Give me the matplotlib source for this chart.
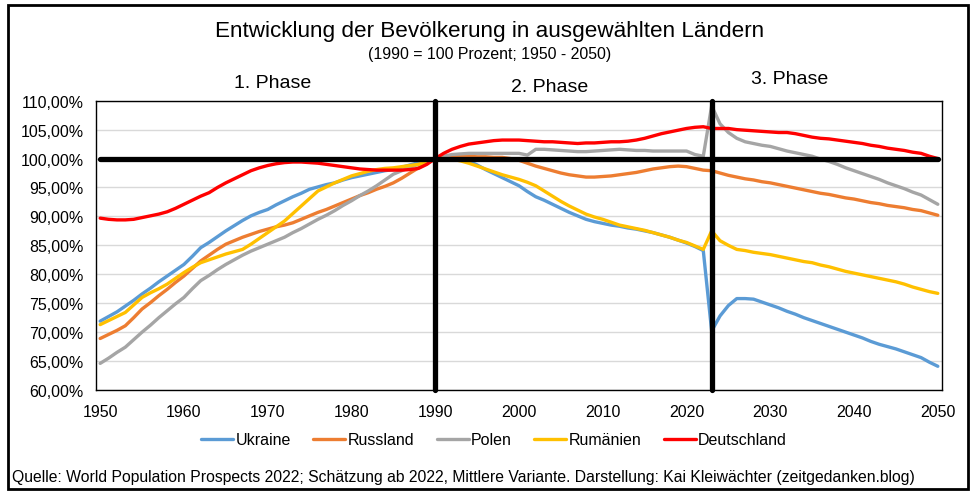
import matplotlib
matplotlib.use("Agg")
import matplotlib.pyplot as plt
from matplotlib.patches import Rectangle
from matplotlib.ticker import FuncFormatter, MultipleLocator

plt.rcParams["font.family"] = ["Liberation Sans", "DejaVu Sans"]

years = list(range(1950, 2051))

ukraine = [
    71.9, 72.7, 73.5, 74.5, 75.5, 76.6, 77.6, 78.7, 79.7, 80.7,
    81.7, 83.1, 84.6, 85.5, 86.5, 87.5, 88.4, 89.3, 90.1, 90.7,
    91.2, 92.0, 92.7, 93.4, 94.0, 94.7, 95.1, 95.5, 95.8, 96.3,
    96.7, 97.0, 97.3, 97.6, 97.9, 98.1, 98.5, 98.9, 99.3, 99.6,
    100.0, 100.2, 100.2, 100.0, 99.6, 98.9, 98.1, 97.4, 96.7, 96.0,
    95.3, 94.3, 93.4, 92.8, 92.1, 91.4, 90.7, 90.1, 89.5, 89.1,
    88.8, 88.5, 88.3, 88.0, 87.8, 87.5, 87.2, 86.8, 86.4, 85.9,
    85.4, 84.8, 84.1, 70.2, 72.8, 74.6, 75.8, 75.8, 75.7, 75.2,
    74.7, 74.2, 73.6, 73.1, 72.5, 72.0, 71.5, 71.0, 70.5, 70.0,
    69.5, 69.0, 68.4, 67.9, 67.5, 67.1, 66.6, 66.1, 65.6, 64.8,
    64.1,
]
russland = [
    68.9, 69.6, 70.3, 71.1, 72.5, 74.0, 75.1, 76.3, 77.4, 78.6,
    79.7, 81.0, 82.3, 83.3, 84.3, 85.2, 85.8, 86.4, 86.9, 87.4,
    87.8, 88.2, 88.5, 88.9, 89.5, 90.1, 90.7, 91.2, 91.8, 92.4,
    93.0, 93.6, 94.1, 94.7, 95.2, 95.8, 96.6, 97.5, 98.4, 99.2,
    100.0, 100.3, 100.3, 100.4, 100.4, 100.3, 100.3, 100.2, 100.2, 100.0,
    99.7, 99.2, 98.7, 98.3, 97.9, 97.5, 97.2, 97.0, 96.8, 96.8,
    96.9, 97.0, 97.2, 97.4, 97.6, 97.9, 98.2, 98.4, 98.6, 98.7,
    98.6, 98.3, 98.0, 97.9, 97.5, 97.1, 96.8, 96.5, 96.3, 96.0,
    95.8, 95.5, 95.2, 94.9, 94.6, 94.3, 94.0, 93.8, 93.5, 93.2,
    93.0, 92.7, 92.4, 92.2, 91.9, 91.7, 91.5, 91.2, 91.0, 90.6,
    90.2,
]
polen = [
    64.6, 65.5, 66.5, 67.4, 68.7, 70.0, 71.2, 72.5, 73.7, 74.9,
    76.0, 77.5, 78.9, 79.8, 80.8, 81.7, 82.5, 83.3, 84.0, 84.6,
    85.2, 85.8, 86.4, 87.2, 87.9, 88.7, 89.5, 90.2, 91.0, 91.9,
    92.7, 93.6, 94.4, 95.3, 96.3, 97.3, 97.9, 98.5, 99.0, 99.5,
    100.0, 100.4, 100.7, 100.8, 100.9, 100.9, 100.9, 100.9, 100.9, 100.9,
    100.9, 100.6, 101.6, 101.6, 101.5, 101.4, 101.3, 101.2, 101.2, 101.3,
    101.4, 101.5, 101.6, 101.5, 101.4, 101.4, 101.3, 101.3, 101.3, 101.3,
    101.3, 100.7, 100.4, 109.1, 106.0, 104.5, 103.5, 102.9, 102.6, 102.3,
    102.1, 101.7, 101.3, 101.0, 100.7, 100.4, 99.9, 99.5, 99.0, 98.4,
    97.9, 97.4, 96.9, 96.4, 95.8, 95.3, 94.8, 94.2, 93.7, 92.9,
    92.1,
]
rumaenien = [
    71.3, 72.0, 72.7, 73.4, 74.7, 76.0, 76.8, 77.5, 78.3, 79.3,
    80.3, 81.2, 82.0, 82.5, 83.0, 83.5, 83.9, 84.3, 85.2, 86.2,
    87.2, 88.2, 89.2, 90.5, 91.8, 93.1, 94.4, 95.1, 95.8, 96.4,
    97.0, 97.4, 97.8, 98.1, 98.3, 98.4, 98.6, 98.8, 99.0, 99.4,
    100.0, 100.0, 99.9, 99.6, 99.2, 98.7, 98.2, 97.7, 97.2, 96.8,
    96.4, 95.9, 95.3, 94.4, 93.5, 92.6, 91.8, 91.1, 90.4, 89.9,
    89.5, 89.0, 88.5, 88.2, 87.9, 87.6, 87.2, 86.8, 86.4, 85.9,
    85.5, 84.9, 84.3, 87.5, 85.8, 85.0, 84.3, 84.1, 83.8, 83.6,
    83.4, 83.1, 82.8, 82.5, 82.2, 82.0, 81.6, 81.3, 80.9, 80.5,
    80.2, 79.9, 79.6, 79.3, 79.0, 78.7, 78.3, 77.8, 77.4, 77.0,
    76.7,
]
deutschland = [
    89.7, 89.5, 89.4, 89.4, 89.5, 89.8, 90.1, 90.4, 90.8, 91.4,
    92.1, 92.8, 93.5, 94.1, 95.0, 95.8, 96.5, 97.2, 97.9, 98.4,
    98.8, 99.1, 99.3, 99.4, 99.4, 99.3, 99.2, 99.0, 98.8, 98.6,
    98.4, 98.2, 98.1, 98.0, 98.0, 98.0, 98.0, 98.1, 98.3, 99.0,
    100.0, 100.9, 101.6, 102.1, 102.5, 102.7, 102.9, 103.1, 103.2, 103.2,
    103.2, 103.1, 103.0, 102.9, 102.9, 102.8, 102.7, 102.6, 102.7, 102.7,
    102.8, 102.9, 102.9, 103.0, 103.2, 103.5, 103.9, 104.3, 104.6, 104.9,
    105.2, 105.4, 105.5, 105.2, 105.2, 105.2, 105.0, 104.9, 104.8, 104.7,
    104.6, 104.5, 104.5, 104.3, 104.0, 103.7, 103.5, 103.4, 103.2, 103.0,
    102.8, 102.6, 102.3, 102.1, 101.8, 101.6, 101.4, 101.1, 100.9, 100.4,
    100.0,
]

series = [
    ("Ukraine", ukraine, "#5B9BD5"),
    ("Russland", russland, "#ED7D31"),
    ("Polen", polen, "#A5A5A5"),
    ("Rumänien", rumaenien, "#FFC000"),
    ("Deutschland", deutschland, "#FF0000"),
]

phase_labels = ["1. Phase", "2. Phase", "3. Phase"]
phase_breaks = [1990, 2023]

fig = plt.figure(figsize=(9.75, 5.02), dpi=100)
ax = fig.add_axes([96 / 975, 1 - 391 / 502, (942 - 96) / 975, (391 - 101.7) / 502])

for name, values, color in series:
    ax.plot(years, values, color=color, lw=2.4, label=name, solid_capstyle="round")

# 100 % line and phase separators
ax.plot([years[0], years[-1]], [100, 100], color="black", lw=3.8, solid_capstyle="round", zorder=5)
for x in phase_breaks:
    ax.plot([x, x], [60, 110], color="black", lw=3.8, solid_capstyle="round", zorder=5, clip_on=False)

ax.set_xlim(1949.5, 2050.5)
ax.set_ylim(60, 110)
ax.xaxis.set_major_locator(MultipleLocator(10))
ax.yaxis.set_major_locator(MultipleLocator(5))
ax.yaxis.set_major_formatter(FuncFormatter(lambda v, p: f"{v:.2f}".replace(".", ",") + "%"))
ax.tick_params(length=0, labelsize=11.5)
ax.tick_params(axis="y", pad=9)
ax.tick_params(axis="x", pad=10)
ax.grid(axis="y", color="#D9D9D9", lw=1)
ax.set_axisbelow(True)
for sp in ax.spines.values():
    sp.set_linewidth(1)
    sp.set_color("black")

fig.text(490 / 975, 1 - 32 / 502, "Entwicklung der Bevölkerung in ausgewählten Ländern",
         ha="center", va="center", fontsize=16.2)
fig.text(490 / 975, 1 - 54 / 502, "(1990 = 100 Prozent; 1950 - 2050)",
         ha="center", va="center", fontsize=11.4)
for label, (px, py) in zip(phase_labels, [(273, 84), (550, 88), (790, 80)]):
    fig.text(px / 975, 1 - py / 502, label, ha="center", va="center", fontsize=14)

fig.legend(loc="center", bbox_to_anchor=(494 / 975, 1 - 441 / 502), ncol=5, frameon=False,
           fontsize=11.5, handlelength=2.0, handletextpad=0.15, columnspacing=1.4)

fig.text(12 / 975, 1 - 478 / 502,
         "Quelle: World Population Prospects 2022; Schätzung ab 2022, Mittlere Variante. "
         "Darstellung: Kai Kleiwächter (zeitgedanken.blog)",
         ha="left", va="center", fontsize=11.3)

fig.patches.append(Rectangle((8 / 975, 1 - 490 / 502), 960 / 975, 484 / 502,
                             transform=fig.transFigure, fill=False, ec="black", lw=2))

fig.savefig("out.png", dpi=100)
